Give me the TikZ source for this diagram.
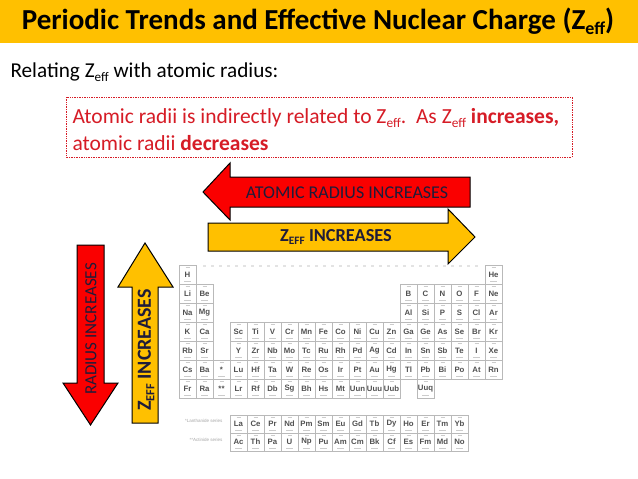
\documentclass[tikz,border=0pt]{standalone}
\usepackage{fontspec}
\setmainfont{Carlito}
\newfontfamily\ptfont{Liberation Sans}
\definecolor{titley}{RGB}{255,192,0}
\definecolor{boxred}{RGB}{214,28,38}
\definecolor{arrred}{RGB}{250,0,0}
\definecolor{arryel}{RGB}{255,192,0}
\definecolor{arrtext}{RGB}{30,28,58}
\definecolor{symgray}{RGB}{80,80,80}
\newcommand\mysub[1]{\raisebox{-0.35ex}{\scalebox{0.62}{#1}}}
\newcommand\pcell[4]{%
  \pgfmathsetmacro\xl{179+(#1-1)*17}%
  \node[pcellbox, minimum height=#3pt] (cell-#1-#2) at (\xl+8.5,#2+#3/2) {\raisebox{-1.8pt}{#4}};%
  \draw[tinyline] ([xshift=-2pt,yshift=-3pt]cell-#1-#2.north) -- ++(4,0);%
  \draw[tinyline] ([xshift=-3.5pt,yshift=2.5pt]cell-#1-#2.south) -- ++(7,0);%
}
\tikzset{
  pcellbox/.style={draw=gray!55, line width=0.5pt, minimum width=17pt, inner sep=0pt,
    font=\ptfont\bfseries\fontsize{7.8}{8}\selectfont, text=symgray},
  tinyline/.style={draw=gray!40, line width=0.6pt},
  arrowline/.style={draw=black, line width=1pt, line join=miter},
  arrlabel/.style={text=arrtext, inner sep=0pt},
}
\begin{document}
\begin{tikzpicture}[x=1pt,y=-1pt]
\useasboundingbox (0,0) rectangle (638,479);
\fill[white] (0,0) rectangle (638,479);
% title bar
\fill[titley] (0,0) rectangle (638,43);
\node[font=\bfseries\fontsize{29}{32}\selectfont] (title) at (318,21) {Periodic Trends and Effective Nuclear Charge (Z\mysub{eff})};
\node[anchor=west, font=\fontsize{21.2}{24}\selectfont] (relating) at (7,72) {Relating Z\mysub{eff} with atomic radius:};
% red dotted box
\draw[boxred, dash pattern=on 0.8pt off 0.9pt, line width=0.7pt] (66,97) rectangle (572,157);
\node[anchor=west, text=boxred, font=\fontsize{21.5}{24}\selectfont] (line1) at (69,118) {Atomic radii is indirectly related to Z\mysub{eff}.\ \ As Z\mysub{eff} \textbf{increases,}};
\node[anchor=west, text=boxred, font=\fontsize{21.5}{24}\selectfont] (line2) at (69,143) {atomic radii \textbf{decreases}};
% horizontal arrows
\draw[arrowline, fill=arrred] (203,192) -- (230,163) -- (230,177) -- (470,177) -- (470,207) -- (230,207) -- (230,220) -- cycle;
\node[arrlabel, font=\fontsize{18}{20}\selectfont] (hred) at (347,193) {ATOMIC RADIUS INCREASES};
\draw[arrowline, fill=arryel] (208,223) -- (448,223) -- (448,209) -- (475,237) -- (448,264) -- (448,251) -- (208,251) -- cycle;
\node[arrlabel, font=\bfseries\fontsize{18.3}{20}\selectfont] (hyel) at (336,237) {Z\mysub{EFF} INCREASES};
% vertical arrows
\draw[arrowline, fill=arrred] (77,245) -- (104,245) -- (104,383) -- (118,383) -- (90.5,425) -- (63,383) -- (77,383) -- cycle;
\node[arrlabel, rotate=90, font=\fontsize{17}{20}\selectfont] (vred) at (91,329) {RADIUS INCREASES};
\draw[arrowline, fill=arryel] (145,243) -- (173,287) -- (158,287) -- (158,423) -- (132,423) -- (132,287) -- (118,287) -- cycle;
\node[arrlabel, rotate=90, font=\bfseries\fontsize{20}{22}\selectfont] (vyel) at (146,350) {Z\mysub{EFF} INCREASES};
% faint group-number row
\draw[gray!22, line width=1.5pt, dash pattern=on 3pt off 5pt] (203,266) -- (480,266);
% periodic table
\foreach \c/\s in {1/H,19/He} {\pcell{\c}{265}{19}{\s}}
\foreach \c/\s in {1/Li,2/Be,14/B,15/C,16/N,17/O,18/F,19/Ne} {\pcell{\c}{284}{19}{\s}}
\foreach \c/\s in {1/Na,2/Mg,14/Al,15/Si,16/P,17/S,18/Cl,19/Ar} {\pcell{\c}{303}{19}{\s}}
\foreach \c/\s in {1/K,2/Ca,4/Sc,5/Ti,6/V,7/Cr,8/Mn,9/Fe,10/Co,11/Ni,12/Cu,13/Zn,14/Ga,15/Ge,16/As,17/Se,18/Br,19/Kr} {\pcell{\c}{322}{19}{\s}}
\foreach \c/\s in {1/Rb,2/Sr,4/Y,5/Zr,6/Nb,7/Mo,8/Tc,9/Ru,10/Rh,11/Pd,12/Ag,13/Cd,14/In,15/Sn,16/Sb,17/Te,18/I,19/Xe} {\pcell{\c}{341}{19}{\s}}
\foreach \c/\s in {1/Cs,2/Ba,3/{*},4/Lu,5/Hf,6/Ta,7/W,8/Re,9/Os,10/Ir,11/Pt,12/Au,13/Hg,14/Tl,15/Pb,16/Bi,17/Po,18/At,19/Rn} {\pcell{\c}{360}{19}{\s}}
\foreach \c/\s in {1/Fr,2/Ra,3/{**},4/Lr,5/Rf,6/Db,7/Sg,8/Bh,9/Hs,10/Mt,11/Uun,12/Uuu,13/Uub,15/Uuq} {\pcell{\c}{379}{19}{\s}}
\foreach \c/\s in {4/La,5/Ce,6/Pr,7/Nd,8/Pm,9/Sm,10/Eu,11/Gd,12/Tb,13/Dy,14/Ho,15/Er,16/Tm,17/Yb} {\pcell{\c}{415}{18}{\s}}
\foreach \c/\s in {4/Ac,5/Th,6/Pa,7/U,8/Np,9/Pu,10/Am,11/Cm,12/Bk,13/Cf,14/Es,15/Fm,16/Md,17/No} {\pcell{\c}{433}{18}{\s}}
\node[anchor=east, text=gray!70, font=\ptfont\fontsize{4.5}{5}\selectfont] (lanth) at (226,421) {*Lanthanide series};
\node[anchor=east, text=gray!70, font=\ptfont\fontsize{4.5}{5}\selectfont] (actin) at (226,440) {**Actinide series};
\end{tikzpicture}
\end{document}
